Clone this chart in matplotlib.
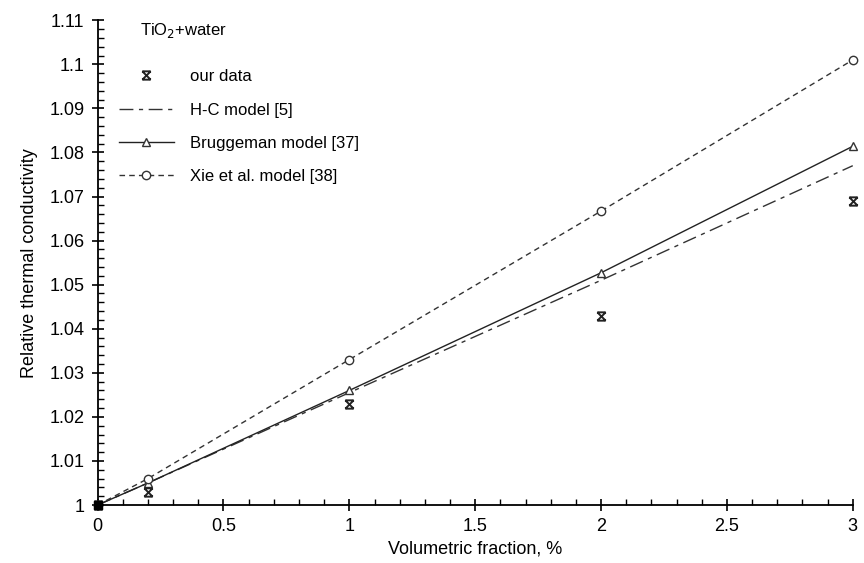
import numpy as np
import matplotlib
matplotlib.use("Agg")
import matplotlib.pyplot as plt
from matplotlib.path import Path
from matplotlib.ticker import MultipleLocator

# data
phi = [0, 0.2, 1, 2, 3]
our_data = [1.0, 1.003, 1.023, 1.043, 1.069]
hc_model = [1.0, 1.005, 1.0255, 1.051, 1.077]
bruggeman = [1.0, 1.005, 1.026, 1.0527, 1.0814]
xie_model = [1.0, 1.006, 1.033, 1.0667, 1.101]

plt.rcParams["font.family"] = ["Liberation Sans", "DejaVu Sans"]
plt.rcParams["font.size"] = 12.5

# x with caps at top and bottom
star = Path([(-1, -1), (1, 1), (-1, 1), (1, -1), (-1, 1), (1, 1), (-1, -1), (1, -1)],
            [Path.MOVETO, Path.LINETO, Path.MOVETO, Path.LINETO,
             Path.MOVETO, Path.LINETO, Path.MOVETO, Path.LINETO])

fig = plt.figure(figsize=(8.64, 5.63), dpi=100)
ax = fig.add_axes([0.113, 0.103, 0.874, 0.861])

ax.plot(phi, our_data, linestyle="none", marker=star, markersize=6, mec="#222222",
        mew=1.4, label="our data", clip_on=False, zorder=5)
ax.plot(phi, hc_model, color="#333333", lw=1.0, dashes=(10, 4, 3, 4), label="H-C model [5]")
ax.plot(phi, bruggeman, color="#222222", lw=1.0, marker="^", markersize=6, mfc="white",
        mec="#333333", label="Bruggeman model [37]", clip_on=False)
ax.plot(phi, xie_model, color="#333333", lw=1.0, dashes=(4, 3), marker="o", markersize=6,
        mfc="white", mec="#333333", label="Xie et al. model [38]", clip_on=False)
ax.plot([0], [1.0], marker="s", markersize=6, color="black", clip_on=False, zorder=6)

ax.set_xlim(0, 3)
ax.set_ylim(1.0, 1.11)
ax.xaxis.set_minor_locator(MultipleLocator(0.1))
ax.yaxis.set_minor_locator(MultipleLocator(0.002))
ax.set_xticks([0, 0.5, 1, 1.5, 2, 2.5, 3])
ax.set_xticklabels(["0", "0.5", "1", "1.5", "2", "2.5", "3"])
ax.set_yticks([1.0 + 0.01 * i for i in range(12)])
ax.set_yticklabels(["1", "1.01", "1.02", "1.03", "1.04", "1.05", "1.06", "1.07",
                    "1.08", "1.09", "1.1", "1.11"])
ax.tick_params(which="major", direction="inout", length=9, width=1.2, pad=5, labelsize=13)
ax.tick_params(which="minor", direction="in", length=4.5, width=1.0)
for s in ["top", "right"]:
    ax.spines[s].set_visible(False)
for s in ["left", "bottom"]:
    ax.spines[s].set_linewidth(1.3)

ax.set_xlabel("Volumetric fraction, %", labelpad=4, fontsize=13)
ax.set_ylabel("Relative thermal conductivity", labelpad=8, fontsize=13)

ax.text(140, 533, "TiO$_2$+water", transform=None, fontsize=12, va="center")
ax.legend(loc="upper left", bbox_to_anchor=(0.008, 0.93), frameon=False,
          handlelength=3.3, handletextpad=1.0, labelspacing=1.1, fontsize=12)

fig.savefig("out.png", dpi=100)
